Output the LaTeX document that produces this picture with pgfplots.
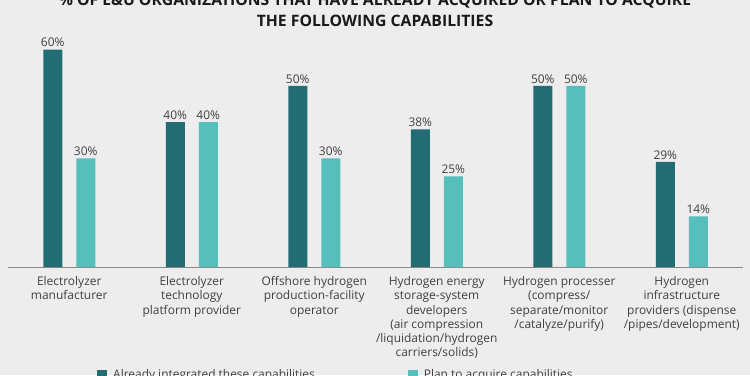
\documentclass[border=0pt]{standalone}
\usepackage{fontspec}
\setmainfont{Open Sans}
\usepackage{pgfplots}
\pgfplotsset{compat=1.18}
\definecolor{bg}{HTML}{EDEDED}
\definecolor{darkteal}{HTML}{236C74}
\definecolor{lightteal}{HTML}{56BFBB}
\definecolor{txt}{HTML}{404040}
\definecolor{axisgray}{HTML}{8A8A8A}
\begin{document}
\begin{tikzpicture}[x=1bp,y=1bp]
\fill[bg] (0,0) rectangle (750,375);
\useasboundingbox (0,0) rectangle (750,375);
\node[anchor=base, font=\bfseries\fontsize{15.8}{18}\selectfont, text=black!90, inner sep=0pt] at (375,369.5) {\% OF E\&U ORGANIZATIONS THAT HAVE ALREADY ACQUIRED OR PLAN TO ACQUIRE};
\node[anchor=base, font=\bfseries\fontsize{15.8}{18}\selectfont, text=black!90, inner sep=0pt] at (375,349) {THE FOLLOWING CAPABILITIES};
\begin{axis}[
  at={(8bp,108bp)}, anchor=south west,
  scale only axis, width=735bp, height=217.5bp,
  xmin=-0.5, xmax=5.5, ymin=0, ymax=60,
  axis x line=bottom, axis y line=none,
  x axis line style={-, draw=axisgray, line width=1bp},
  ytick=\empty,
  xtick={0,1,2,3,4,5},
  major tick length=0pt,
  xticklabels={{Electrolyzer\\manufacturer},{Electrolyzer\\technology\\platform provider},{Offshore hydrogen\\production-facility\\operator},{Hydrogen energy\\storage-system\\developers\\(air compression\\/liquidation/hydrogen\\carriers/solids)},{Hydrogen processer\\(compress/\\separate/monitor\\/catalyze/purify)},{Hydrogen\\infrastructure\\providers (dispense\\/pipes/development)}},
  xticklabel style={align=center, font=\fontsize{12}{14.3}\selectfont, text=txt, yshift=-6bp},
  ybar=14bp, bar width=19bp,
  clip=false,
  /pgf/number format/assume math mode=true,
  nodes near coords={\pgfmathprintnumber{\pgfplotspointmeta}\%},
  every node near coord/.append style={font=\fontsize{12}{14}\selectfont, text=txt, yshift=-1bp},
  legend style={at={(axis cs:0.2265,-27.6)}, anchor=north west, draw=none, fill=none, inner sep=0pt,
    font=\fontsize{12}{14}\selectfont, text=txt,
    /tikz/every odd column/.append style={column sep=4bp},
    /tikz/every even column/.append style={column sep=91bp}},
  legend columns=2, legend cell align=left,
]
\addplot[fill=darkteal, draw=none, legend image code/.code={\fill[darkteal] (0bp,-5bp) rectangle (10bp,5bp);}] coordinates {(0,60) (1,40) (2,50) (3,38) (4,50) (5,29)};
\addplot[fill=lightteal, draw=none, legend image code/.code={\fill[lightteal] (0bp,-5bp) rectangle (10bp,5bp);}] coordinates {(0,30) (1,40) (2,30) (3,25) (4,50) (5,14)};
\legend{Already integrated these capabilities, Plan to acquire capabilities}
\end{axis}
\end{tikzpicture}
\end{document}
